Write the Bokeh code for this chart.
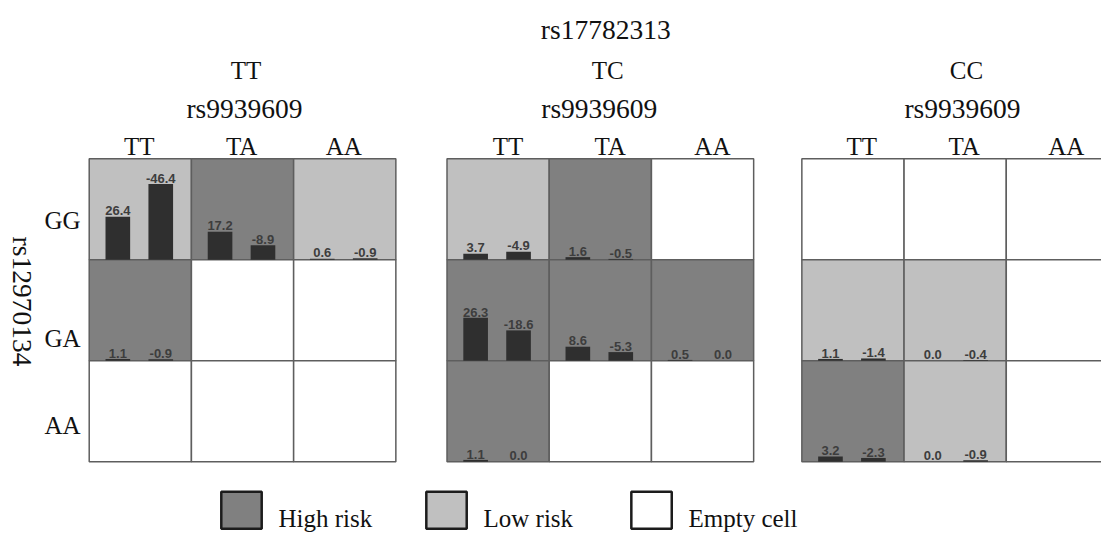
import math
from bokeh.plotting import figure
from bokeh.models import Range1d
from bokeh.embed import file_html
from bokeh.resources import INLINE
from bokeh.core.properties import value

# ---------------- data ----------------
snp_panel = "rs17782313"      # splits the three panels
snp_col = "rs9939609"         # columns inside each panel
snp_row = "rs12970134"        # rows
panel_genotypes = ["TT", "TC", "CC"]
col_genotypes = ["TT", "TA", "AA"]
row_genotypes = ["GG", "GA", "AA"]

# risk class per cell (rows GG, GA, AA; columns TT, TA, AA): H = high, L = low, E = empty
risk_TT = [["L", "H", "L"], ["H", "E", "E"], ["E", "E", "E"]]
risk_TC = [["L", "H", "E"], ["H", "H", "H"], ["H", "E", "E"]]
risk_CC = [["E", "E", "E"], ["L", "L", "E"], ["H", "L", "E"]]

# left bar (cases) and right bar (controls) values per cell, None = no bars
left_TT = [[26.4, 17.2, 0.6], [1.1, None, None], [None, None, None]]
right_TT = [[-46.4, -8.9, -0.9], [-0.9, None, None], [None, None, None]]
left_TC = [[3.7, 1.6, None], [26.3, 8.6, 0.5], [1.1, None, None]]
right_TC = [[-4.9, -0.5, None], [-18.6, -5.3, 0.0], [0.0, None, None]]
left_CC = [[None, None, None], [1.1, 0.0, None], [3.2, 0.0, None]]
right_CC = [[None, None, None], [-1.4, -0.4, None], [-2.3, -0.9, None]]

legend_labels = ["High risk", "Low risk", "Empty cell"]
legend_classes = ["H", "L", "E"]

risks = [risk_TT, risk_TC, risk_CC]
lefts = [left_TT, left_TC, left_CC]
rights = [right_TT, right_TC, right_CC]

# ---------------- layout / style ----------------
W, H = 1101, 535            # figure size (fits the 1117x551 window with its 8px margin)
REF_W, REF_H = 1117, 551    # layout coordinate space
PANEL_X0 = [90, 453, 813]
GRID_TOP = 163.0
CELL_W = 103.7
CELL_H = 104.0
BAR_FRAC = [0.28, 0.70]
BAR_W = 25.0
PX_PER_UNIT = 1.68
FILL = {"H": "#808080", "L": "#c0c0c0", "E": "#ffffff"}
GRID_LINE = "#5e5e5e"
BAR_COLOR = "#2f2f2f"
SERIF = value("Liberation Serif")
SANS = value("Liberation Sans")
TXT = "#111111"

TOP_TITLE_X = [249, 616, 980]
SUB_TITLE_X = [247.5, 607.5, 976]
COL_SHIFT = [-1, 10, 9]
ROW_BASE = [227, 348, 438]

p = figure(width=W, height=H, output_backend="svg", toolbar_location=None,
           x_range=Range1d(0, REF_W), y_range=Range1d(REF_H, 0),
           min_border=0, min_border_left=0, min_border_right=0,
           min_border_top=0, min_border_bottom=0)
p.xaxis.visible = False
p.yaxis.visible = False
p.grid.visible = False
p.outline_line_color = None
p.background_fill_color = "white"
p.border_fill_color = "white"

# cells
cl, cr, ct, cb, cf = [], [], [], [], []
for k in range(3):
    for i in range(3):
        for j in range(3):
            x0 = PANEL_X0[k] + j * CELL_W
            y0 = GRID_TOP + i * CELL_H
            cl.append(x0); cr.append(x0 + CELL_W)
            ct.append(y0); cb.append(y0 + CELL_H)
            cf.append(FILL[risks[k][i][j]])
p.quad(left=cl, right=cr, top=ct, bottom=cb, fill_color=cf,
       line_color=GRID_LINE, line_width=1.5)

# bars and value labels
bl, br, bt, bb = [], [], [], []
lx, ly, lt = [], [], []
for k in range(3):
    for i in range(3):
        for j in range(3):
            vals = [lefts[k][i][j], rights[k][i][j]]
            if vals[0] is None:
                continue
            base = GRID_TOP + (i + 1) * CELL_H
            for b in range(2):
                v = vals[b]
                xc = PANEL_X0[k] + (j + BAR_FRAC[b]) * CELL_W
                top = base - abs(v) * PX_PER_UNIT
                bl.append(xc - BAR_W / 2); br.append(xc + BAR_W / 2)
                bt.append(top); bb.append(base)
                lx.append(xc); ly.append(top - 6)
                lt.append(f"{v:.1f}")
p.quad(left=bl, right=br, top=bt, bottom=bb, fill_color=BAR_COLOR, line_color=None)
p.text(x=lx, y=ly, text=lt, text_font=SANS, text_font_size="13px", text_font_style="bold",
       text_color="#3d3d3d", text_align="center", text_baseline="alphabetic")

# headers
p.text(x=[614], y=[30], text=[snp_panel], text_font=SERIF,
       text_font_size="27.5px", text_color=TXT, text_align="center", text_baseline="alphabetic")
p.text(x=TOP_TITLE_X, y=[72] * 3, text=panel_genotypes, text_font=SERIF,
       text_font_size="25px", text_color=TXT, text_align="center", text_baseline="alphabetic")
p.text(x=SUB_TITLE_X, y=[111] * 3, text=[snp_col] * 3, text_font=SERIF,
       text_font_size="27.5px", text_color=TXT, text_align="center", text_baseline="alphabetic")
cx, cy, ctext = [], [], []
for k in range(3):
    for j in range(3):
        cx.append(PANEL_X0[k] + (j + 0.5) * CELL_W + COL_SHIFT[k])
        cy.append(150)
        ctext.append(col_genotypes[j])
p.text(x=cx, y=cy, text=ctext, text_font=SERIF, text_font_size="25px",
       text_color=TXT, text_align="center", text_baseline="alphabetic")

# row labels
p.text(x=[63] * 3, y=ROW_BASE, text=row_genotypes, text_font=SERIF, text_font_size="25px",
       text_color=TXT, text_align="center", text_baseline="alphabetic")
p.text(x=[22], y=[310], text=[snp_row], angle=-math.pi / 2, text_font=SERIF,
       text_font_size="27.5px", text_color=TXT, text_align="center", text_baseline="middle")

# legend
LEG_X0 = [224, 432, 640]
LEG_BOX_W = 41
LEG_TOP, LEG_BOT = 506, 544
p.quad(left=LEG_X0, right=[x + LEG_BOX_W for x in LEG_X0], top=[LEG_TOP] * 3,
       bottom=[LEG_BOT] * 3, fill_color=[FILL[c] for c in legend_classes],
       line_color="#1c1c1c", line_width=2.5)
p.text(x=[x + LEG_BOX_W + 17 for x in LEG_X0], y=[533] * 3, text=legend_labels,
       text_font=SERIF, text_font_size="25px", text_color=TXT,
       text_align="left", text_baseline="alphabetic")

open("out.html", "w").write(file_html(p, INLINE))
